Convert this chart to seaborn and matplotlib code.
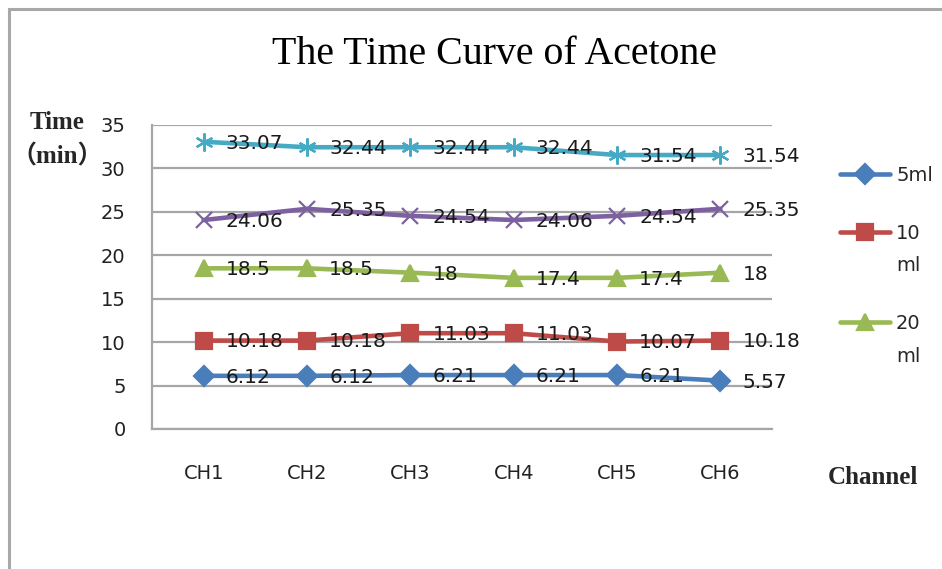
import matplotlib
matplotlib.use("Agg")
import matplotlib.pyplot as plt
import seaborn as sns
from matplotlib.patches import Rectangle

# values
channels = ["CH1", "CH2", "CH3", "CH4", "CH5", "CH6"]
vol_5ml = [6.12, 6.12, 6.21, 6.21, 6.21, 5.57]
vol_10ml = [10.18, 10.18, 11.03, 11.03, 10.07, 10.18]
vol_20ml = [18.5, 18.5, 18.0, 17.4, 17.4, 18.0]
series_4 = [24.06, 25.35, 24.54, 24.06, 24.54, 25.35]
series_5 = [33.07, 32.44, 32.44, 32.44, 31.54, 31.54]
legend_labels = ["5ml", "10\nml", "20\nml", "Series4", "Series5"]
y_ticks = [0, 5, 10, 15, 20, 25, 30, 35]

colors = ["#4A7EBB", "#BE4B48", "#98B954", "#7D60A0", "#46AAC5"]
markers = ["D", "s", "^", "x", (6, 2, 0)]
msizes = [10, 12, 11, 12, 13]

sns.set_style("white")
plt.rcParams["font.family"] = ["DejaVu Sans"]
serif = ["Liberation Serif", "Noto Sans CJK SC"]

fig = plt.figure(figsize=(9.42, 5.69), dpi=100)
ax = fig.add_axes([152 / 942, 1 - 429 / 569, 620 / 942, 304 / 569])

all_series = [vol_5ml, vol_10ml, vol_20ml, series_4, series_5]
for vals, lab, c, m, ms in zip(all_series, legend_labels, colors, markers, msizes):
    sns.lineplot(x=channels, y=vals, ax=ax, color=c, linewidth=3.3, sort=False,
                 marker=m, markersize=ms, markeredgecolor=c, markerfacecolor=c,
                 markeredgewidth=1.6, label=lab)
    for ch, v in zip(channels, vals):
        ax.annotate(f"{v:g}", xy=(ch, v), xytext=(16, -1), textcoords="offset points",
                    ha="left", va="center", fontsize=14.5, color="#1a1a1a")

ax.set_xlim(-0.5, 5.5)
ax.set_ylim(0, 35)
ax.set_yticks(y_ticks)
ax.set_xlabel("")
ax.set_ylabel("")
ax.grid(axis="y", color="#A6A6A6", linewidth=1.6)
ax.grid(axis="x", visible=False)
ax.set_axisbelow(True)
for side in ["top", "right"]:
    ax.spines[side].set_visible(False)
for side in ["left", "bottom"]:
    ax.spines[side].set_color("#A6A6A6")
    ax.spines[side].set_linewidth(1.6)
ax.tick_params(axis="x", length=0, pad=25, labelsize=14, labelcolor="#222222")
ax.tick_params(axis="y", length=0, pad=19, labelsize=14, labelcolor="#222222")

handles, labels = ax.get_legend_handles_labels()
leg = ax.legend(handles[:3], labels[:3], loc="upper left",
                bbox_to_anchor=(830 / 942, 1 - 156 / 569), bbox_transform=fig.transFigure,
                frameon=False, fontsize=14, handlelength=2.6, handletextpad=0.3,
                labelspacing=2.0, borderpad=0)
# Excel wraps the long labels and keeps the key on the first line
for txt, h in zip(leg.get_texts(), leg.legend_handles):
    if "\n" in txt.get_text():
        txt.set_linespacing(1.9)
        h.set_ydata(h.get_ydata() + 13.0)

fig.text(494 / 942, 1 - 54 / 569, "The Time Curve of Acetone", ha="center", va="center",
         fontsize=28.7, family=serif, color="black")
fig.text(57 / 942, 1 - 140 / 569, "Time\n（min）", ha="center", va="center",
         fontsize=18, fontweight="bold", family=serif, linespacing=1.55)
fig.text(873 / 942, 1 - 477 / 569, "Channel", ha="center", va="center",
         fontsize=18, fontweight="bold", family=serif)

# outer chart-area frame
fig.add_artist(Rectangle((9 / 942, -0.05), 1.1, 1.05 - 9 / 569, transform=fig.transFigure,
                         fill=False, edgecolor="#A8A8A8", linewidth=2.2))

fig.savefig("out.png", dpi=100)
